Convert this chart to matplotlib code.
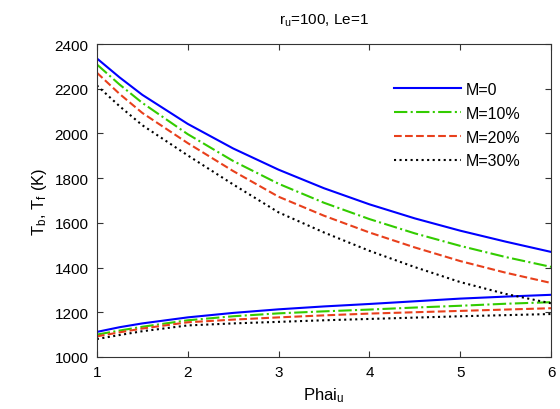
#!/usr/bin/env python3
"""Flame and burnt-gas temperatures versus Phai_u for several M values."""

import matplotlib

matplotlib.use("Agg")
import matplotlib.pyplot as plt

plt.rcParams["font.family"] = ["Liberation Sans", "DejaVu Sans"]
plt.rcParams["mathtext.fontset"] = "custom"
plt.rcParams["mathtext.rm"] = "Liberation Sans"
plt.rcParams["mathtext.it"] = "Liberation Sans"

PHAI = [1.0, 1.25, 1.5, 2.0, 2.5, 3.0, 3.5, 4.0, 4.5, 5.0, 5.5, 6.0]
LABELS = ["M=0", "M=10%", "M=20%", "M=30%"]

# upper branch (T_b)
T_UPPER = [
    [2336, 2251, 2173, 2043, 1933, 1838, 1755, 1683, 1620, 1565, 1516, 1470],
    [2309, 2219, 2137, 1997, 1877, 1775, 1690, 1617, 1553, 1497, 1447, 1403],
    [2272, 2177, 2092, 1957, 1832, 1717, 1632, 1557, 1490, 1429, 1377, 1331],
    [2215, 2122, 2037, 1902, 1772, 1647, 1557, 1475, 1402, 1335, 1282, 1240],
]
# lower branch (T_f)
T_LOWER = [
    [1112, 1133, 1150, 1177, 1197, 1213, 1226, 1237, 1249, 1261, 1270, 1278],
    [1100, 1118, 1135, 1164, 1182, 1195, 1204, 1212, 1221, 1229, 1238, 1245],
    [1092, 1110, 1127, 1155, 1167, 1177, 1186, 1194, 1200, 1206, 1212, 1218],
    [1080, 1098, 1115, 1141, 1150, 1157, 1164, 1170, 1176, 1182, 1187, 1192],
]

COLORS = ["#0000ff", "#33cc00", "#e8401c", "#000000"]
STYLES = ["-", "-.", "--", ":"]


def main() -> None:
    fig = plt.figure(figsize=(5.6, 4.1), dpi=100)
    ax = fig.add_axes([0.173, 0.127, 0.811, 0.763])

    for upper, lower, label, color, style in zip(
        T_UPPER, T_LOWER, LABELS, COLORS, STYLES
    ):
        ax.plot(PHAI, upper, linestyle=style, color=color, linewidth=1.5,
                label=label)
        ax.plot(PHAI, lower, linestyle=style, color=color, linewidth=1.5)

    ax.set_xlim(1, 6)
    ax.set_ylim(1000, 2400)
    ax.set_xticks(range(1, 7))
    ax.set_yticks(range(1000, 2401, 200))
    ax.tick_params(direction="in", top=True, right=True, labelsize=11,
                   length=4, color="#333333", pad=6)
    for spine in ax.spines.values():
        spine.set_color("#333333")

    ax.set_title(r"r$_\mathregular{u}$=100, Le=1", fontsize=11, pad=15)
    ax.set_xlabel(r"Phai$_\mathregular{u}$", fontsize=12)
    ax.set_ylabel(r"T$_\mathregular{b}$, T$_\mathregular{f}$ (K)", fontsize=12)

    ax.legend(loc="upper right", bbox_to_anchor=(0.965, 0.925), frameon=False,
              fontsize=11.5, handlelength=4.2, labelspacing=0.55,
              handletextpad=0.3)

    fig.savefig("out.png", dpi=100)


if __name__ == "__main__":
    main()
